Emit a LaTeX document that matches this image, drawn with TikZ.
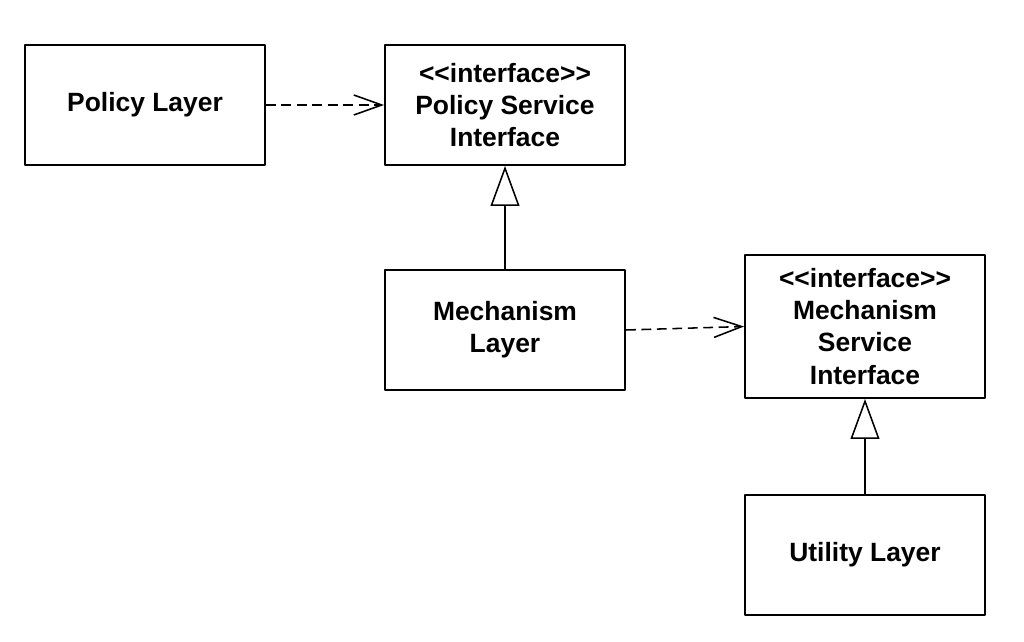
\documentclass[tikz,border=0pt]{standalone}
\usepackage{fontspec}
\setmainfont{Liberation Sans}
\usetikzlibrary{arrows.meta}
\newcommand{\stereo}[1]{<{}<#1>{}>}
\begin{document}
\begin{tikzpicture}[x=0.025cm,y=-0.025cm,line join=round,line width=1.1pt]
	\tikzset{every node/.style={font=\fontsize{18.8}{22.8}\selectfont\bfseries},
		layer/.style={draw,line width=1.3pt,minimum width=6cm,minimum height=3cm,align=center,inner sep=0pt},
		depends/.style={dash pattern=on 7pt off 4pt,-{Straight Barb[length=0.7cm,width=0.5cm,line width=1.1pt]}},
		realizes/.style={-{Triangle[open,fill=white,length=1cm,width=0.72cm,line width=1.1pt]}}}
	\useasboundingbox (0,0) rectangle (1024,642);
	\node[layer] (pl) at (145,105) {Policy Layer};
	\node[layer] (psi) at (505,105) {\stereo{interface}\\Policy Service\\Interface};
	\node[layer] (ml) at (505,330) {Mechanism\\Layer};
	\node[layer,minimum height=3.575cm] (msi) at (865,326.5) {\stereo{interface}\\Mechanism\\Service\\Interface};
	\node[layer] (ul) at (865,555) {Utility Layer};
	\draw[depends] (pl) -- (psi);
	\draw[depends] (ml.east) -- (msi.west);
	\draw[realizes] (ml) -- (psi);
	\draw[realizes] (ul) -- (msi);
\end{tikzpicture}
\end{document}
